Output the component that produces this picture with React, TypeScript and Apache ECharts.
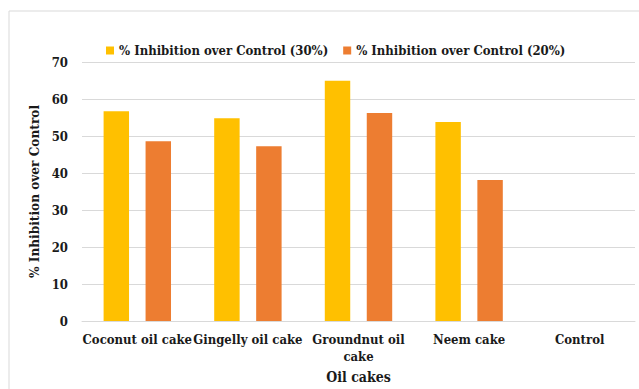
import React, { useEffect, useRef } from "react";
import * as echarts from "echarts";

const categories = ["Coconut oil cake", "Gingelly oil cake", "Groundnut oil cake", "Neem cake", "Control"];
const series30 = [56.7, 54.8, 64.9, 53.8, 0];
const series20 = [48.6, 47.2, 56.2, 38.1, 0];
const seriesNames = ["% Inhibition over Control (30%)", "% Inhibition over Control (20%)"];
const colors = ["#FFC000", "#ED7D31"];

const FONT = "DejaVu Serif Condensed, DejaVu Serif";
const TXT = "#1a1a1a";

export default function App() {
  const ref = useRef<HTMLDivElement>(null);
  useEffect(() => {
    if (!ref.current) return;
    const chart = echarts.init(ref.current, undefined, { renderer: "svg" });
    chart.setOption({
      animation: false,
      backgroundColor: "#ffffff",
      textStyle: { fontFamily: FONT },
      graphic: [
        {
          type: "rect",
          shape: { x: 9, y: 11, width: 700, height: 500 },
          style: { fill: "none", stroke: "#d9d9d9", lineWidth: 1 },
          silent: true,
        },
      ],
      legend: {
        left: 101,
        top: 39,
        itemWidth: 8,
        itemHeight: 8,
        itemGap: 15,
        icon: "rect",
        textStyle: { fontFamily: FONT, fontWeight: "bold", fontSize: 13, color: TXT },
        data: seriesNames,
      },
      grid: { left: 82, right: 4, top: 62, bottom: 68 },
      xAxis: {
        type: "category",
        data: categories,
        name: "Oil cakes",
        nameLocation: "middle",
        nameGap: 48,
        nameTextStyle: { fontFamily: FONT, fontWeight: "bold", fontSize: 14, color: TXT },
        axisLine: { lineStyle: { color: "#d9d9d9" } },
        axisTick: { show: false },
        axisLabel: {
          interval: 0,
          margin: 10,
          fontFamily: FONT,
          fontWeight: "bold",
          fontSize: 13,
          lineHeight: 17,
          color: TXT,
          formatter: (v: string) => (v === "Groundnut oil cake" ? "Groundnut oil\ncake" : v),
        },
      },
      yAxis: {
        type: "value",
        min: 0,
        max: 70,
        interval: 10,
        name: "% Inhibition over Control",
        nameLocation: "middle",
        nameGap: 20,
        nameTextStyle: { fontFamily: FONT, fontWeight: "bold", fontSize: 13.5, color: TXT },
        axisLine: { show: false },
        axisTick: { show: false },
        splitLine: { lineStyle: { color: "#d9d9d9" } },
        axisLabel: { margin: 14, fontFamily: FONT, fontWeight: "bold", fontSize: 13, color: TXT },
      },
      series: [
        {
          name: seriesNames[0],
          type: "bar",
          data: series30,
          itemStyle: { color: colors[0] },
          barWidth: "23%",
          barGap: "65%",
        },
        {
          name: seriesNames[1],
          type: "bar",
          data: series20,
          itemStyle: { color: colors[1] },
          barWidth: "23%",
          barGap: "65%",
        },
      ],
    });
    return () => chart.dispose();
  }, []);
  return (
    <div
      ref={ref}
      style={{ position: "absolute", left: 0, top: 0, width: 639, height: 389 }}
    />
  );
}
